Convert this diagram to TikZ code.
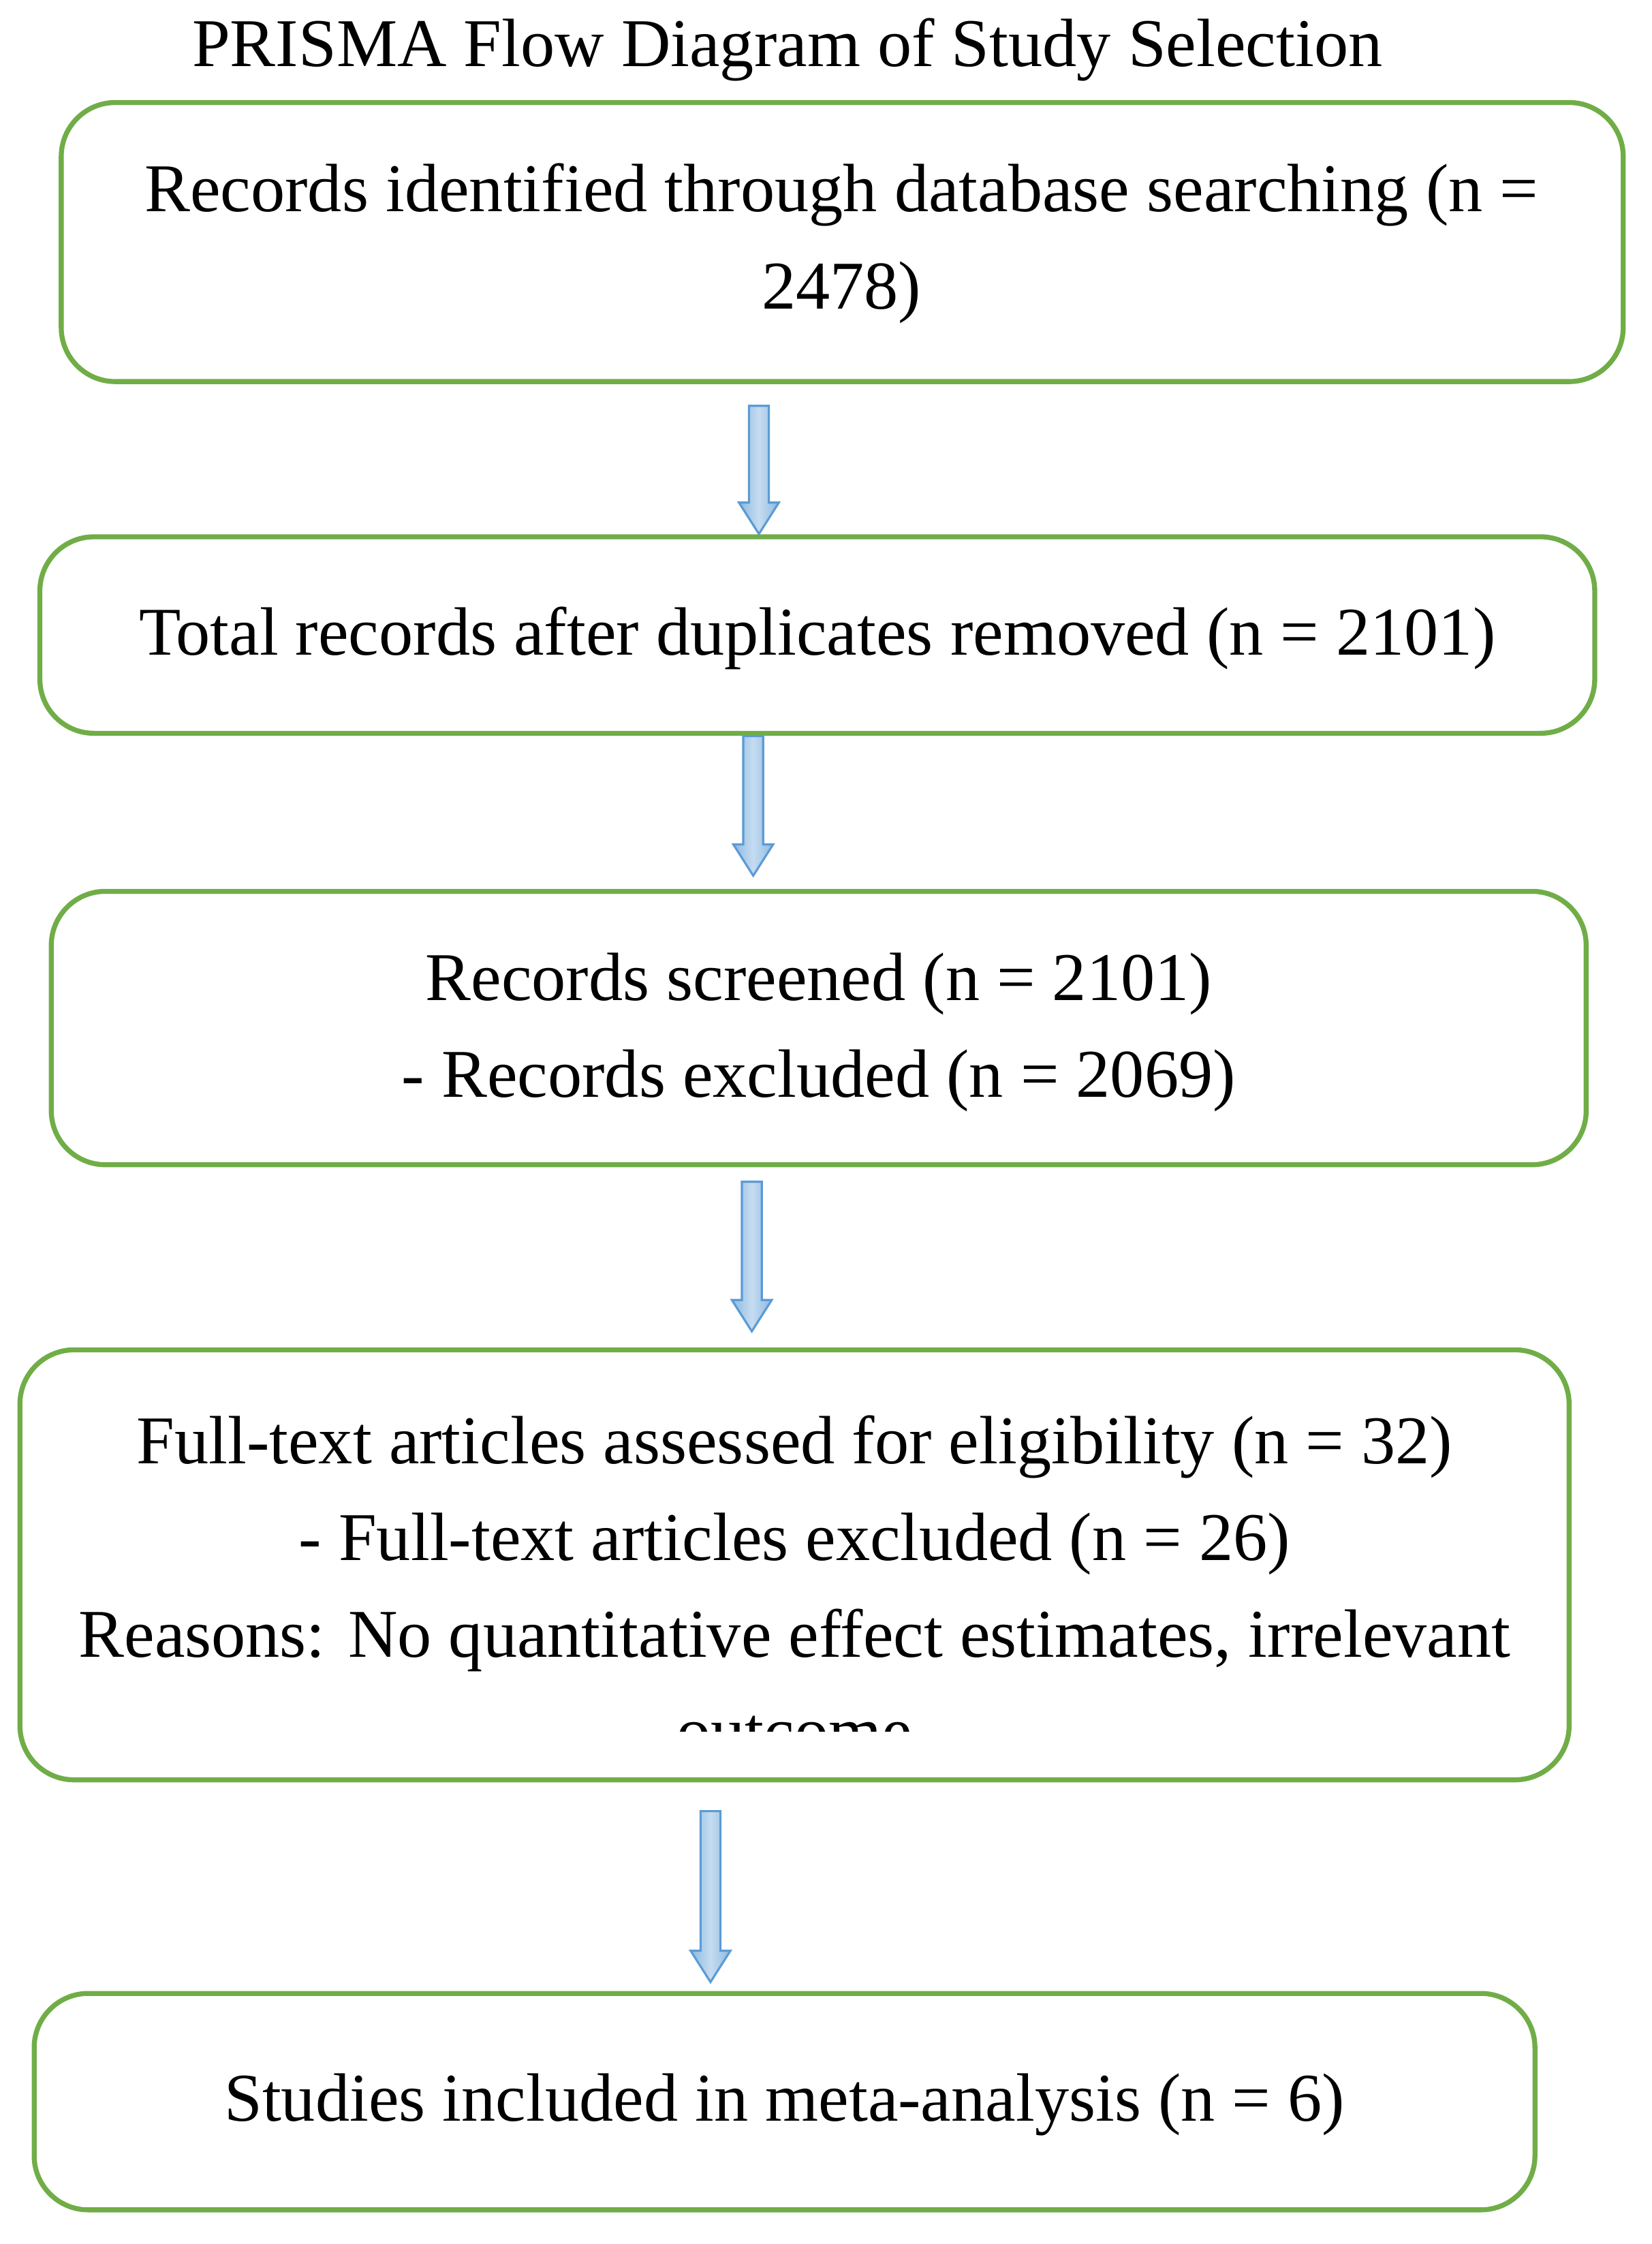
\documentclass[tikz,border=0pt]{standalone}
\usepackage{fontspec}
\setmainfont{Liberation Serif}
\definecolor{gbox}{HTML}{70AD47}
\definecolor{barr}{HTML}{5B9BD5}
\begin{document}
\begin{tikzpicture}[x=1pt,y=-1pt,
  box/.style={draw=gbox, line width=3.5pt, rounded corners=38pt},
  txt/.style={font=\fontsize{48}{68}\selectfont, align=center, inner sep=0pt},
  barrow/.style={draw=barr, line width=1.5pt, left color=barr!70, right color=barr!70, middle color=barr!35}]
\useasboundingbox (0,0) rectangle (1160,1576);
\node[txt, font=\fontsize{48}{54}\selectfont] (title) at (553,35) {PRISMA Flow Diagram of Study Selection};
\draw[box] (43,72) rectangle (1140,268);
\node[txt] (b1) at (591,171) {Records identified through database searching (n =\\2478)};
\draw[box] (28,377) rectangle (1120,515);
\node[txt] (b2) at (574,448) {Total records after duplicates removed (n = 2101)};
\draw[box] (36,626) rectangle (1114,818);
\node[txt] (b3) at (575,725) {Records screened (n = 2101)\\- Records excluded (n = 2069)};
\draw[box] (14,948) rectangle (1102,1250);
\begin{scope}
\clip (14,948) rectangle (1102,1216);
\node[txt, anchor=north] (b4) at (558,994) {Full-text articles assessed for eligibility (n = 32)\\- Full-text articles excluded (n = 26)\\Reasons: No quantitative effect estimates, irrelevant\\outcome};
\end{scope}
\draw[box] (24,1400) rectangle (1078,1552);
\node[txt] (b5) at (551,1478) {Studies included in meta-analysis (n = 6)};
\foreach \x/\ya/\yb in {533/285/375, 529/517/615, 528/830/935, 499/1272/1392}{
  \draw[barrow] (\x-7,\ya) -- (\x+7,\ya) -- (\x+7,\yb-22) -- (\x+14,\yb-22) -- (\x,\yb) -- (\x-14,\yb-22) -- (\x-7,\yb-22) -- cycle;
}
\end{tikzpicture}
\end{document}
